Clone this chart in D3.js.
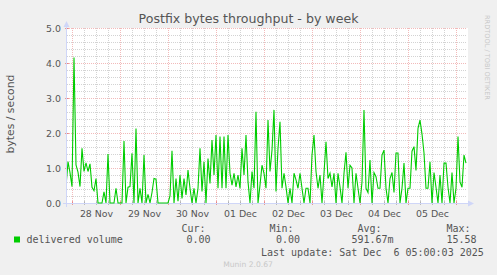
<!DOCTYPE html>
<html>
<head>
<meta charset="utf-8">
<script src="https://cdn.jsdelivr.net/npm/d3@7"></script>
<style>
    body { margin: 0; background: #f0f0f0; }
    svg { display: block; font-family: "DejaVu Sans", sans-serif; }
    .mono { font-family: "DejaVu Sans Mono", monospace; font-size: 10px; fill: #555; white-space: pre; }
</style>
</head>
<body>
<div id="chart"></div>
<script>
// hourly samples, first one at 27 Nov 2025 21:00 UTC
const seriesStart = Date.UTC(2025, 10, 27, 21, 0);
const deliveredVolume = [
    0.47, 1.18, 0.87, 0.47, 4.16, 1.09, 0.88, 0.47, 1.56, 0.9, 1.15, 0.9, 1.12, 0.45, 0.35, 0.7,
    0, 0, 0, 0.32, 0, 1.4, 0, 0, 0, 0.42, 0, 0, 0, 1.77, 0, 0.45,
    0.47, 1.42, 0, 2.13, 0, 0.42, 0, 1.37, 0, 0.25, 0, 0.3, 0.7, 0.68, 0, 0,
    0, 0, 0, 0, 0.2, 1.49, 0, 0.7, 0.05, 0.8, 0.13, 0.7, 0.23, 0.94, 0.42, 0,
    0.42, 0, 0.42, 1.56, 0.33, 1.18, 0, 1.27, 0.56, 1.8, 0.8, 1.94, 0.42, 1.9, 0.42, 1.9,
    0.42, 1.94, 0.85, 0.51, 0.85, 0.46, 0.8, 0.42, 1.56, 0.8, 1.94, 0.61, 0, 0.9, 0.42, 2.61,
    0, 0.51, 1.08, 0.85, 0.42, 2.37, 0.9, 1.51, 2.66, 0.33, 1.56, 2.32, 0.42, 0.85, 0.46, 0,
    0.42, 0, 0.85, 0.66, 0.42, 0.85, 0.42, 0, 0.42, 0.42, 0, 1.37, 1.94, 0.9, 0.42, 0.8,
    0, 0.85, 1.75, 0.7, 0.85, 0.46, 0.85, 0, 0.85, 0.46, 0, 0.85, 1.45, 0.42, 1.08, 1.0,
    0, 0.85, 0.42, 0, 0.6, 2.66, 0.42, 0.3, 1.23, 0, 0.87, 0.75, 0.42, 0.42, 1.37, 1.51,
    0.42, 0, 0.7, 0.87, 0.3, 1.43, 1.43, 0, 0.42, 1.14, 0, 0.42, 0.42, 1.48, 1.61, 0.93,
    2.13, 2.37, 1.97, 1.43, 0.42, 0.42, 1.18, 0, 0.87, 0.45, 0, 0.8, 0, 1.14, 1.14, 0.45,
    0, 0.87, 0, 0.42, 1.9, 0.6, 0.45, 1.37, 1.14
];
const yTicks = [0, 1, 2, 3, 4, 5];
const statLabels = ['Cur:', 'Min:', 'Avg:', 'Max:'];
const statValues = ['0.00', '0.00', '591.67m', '15.58'];
const lastUpdate = 'Last update: Sat Dec  6 05:00:03 2025';

const width = 497;
const height = 275;
const plot = { left: 67, right: 467, top: 28, bottom: 203 };

const fontColor = '#555';
const axisColor = '#cfd6f8';
const gridColor = 'rgba(150,150,150,0.42)';
const majorGridColor = 'rgba(225,90,90,0.42)';
const lineColor = '#00cc00';

const points = deliveredVolume.map((value, index) => ({
    time: new Date(seriesStart + index * 3600 * 1000),
    value
}));

const xScale = d3.scaleUtc()
    .domain([new Date(Date.UTC(2025, 10, 27, 21, 30)), new Date(Date.UTC(2025, 11, 6, 5, 30))])
    .range([plot.left, plot.right]);

const yScale = d3.scaleLinear()
    .domain([0, 5])
    .range([plot.bottom, plot.top]);

const svg = d3.select('#chart').append('svg')
    .attr('width', width)
    .attr('height', height);

svg.append('rect')
    .attr('width', width)
    .attr('height', height)
    .attr('fill', '#f0f0f0');

svg.append('rect')
    .attr('x', plot.left)
    .attr('y', plot.top)
    .attr('width', plot.right - plot.left + 1)
    .attr('height', plot.bottom - plot.top)
    .attr('fill', '#ffffff');

const [startTime, endTime] = xScale.domain();
const minorTimes = d3.utcHour.every(6).range(startTime, endTime).filter((t) => t.getUTCHours() !== 0);
const majorTimes = d3.utcDay.range(startTime, endTime);
const minorValues = d3.range(0, 5.01, 0.2).filter((v) => Math.abs(v - Math.round(v)) > 0.01);

// minor grid
svg.append('g')
    .attr('transform', `translate(0,${plot.bottom})`)
    .call(d3.axisBottom(xScale).tickValues(minorTimes).tickSize(-(plot.bottom - plot.top)).tickFormat(''))
    .call((g) => g.select('.domain').remove())
    .call((g) => g.selectAll('line').attr('stroke', gridColor).attr('stroke-dasharray', '1,1'));

svg.append('g')
    .attr('transform', `translate(${plot.left},0)`)
    .call(d3.axisLeft(yScale).tickValues(minorValues).tickSize(-(plot.right - plot.left)).tickFormat(''))
    .call((g) => g.select('.domain').remove())
    .call((g) => g.selectAll('line').attr('stroke', gridColor).attr('stroke-dasharray', '1,1'));

// major grid
svg.append('g')
    .attr('transform', `translate(0,${plot.bottom})`)
    .call(d3.axisBottom(xScale).tickValues(majorTimes).tickSize(-(plot.bottom - plot.top)).tickFormat(''))
    .call((g) => g.select('.domain').remove())
    .call((g) => g.selectAll('line').attr('stroke', majorGridColor).attr('stroke-dasharray', '1,1'));

svg.append('g')
    .attr('transform', `translate(${plot.left},0)`)
    .call(d3.axisLeft(yScale).tickValues(yTicks).tickSize(-(plot.right - plot.left)).tickFormat(''))
    .call((g) => g.select('.domain').remove())
    .call((g) => g.selectAll('line').attr('stroke', majorGridColor).attr('stroke-dasharray', '1,1'));

// small tick marks on the axes
svg.append('g')
    .attr('transform', `translate(0,${plot.bottom + 2})`)
    .call(d3.axisBottom(xScale).tickValues(minorTimes).tickSize(-4).tickFormat(''))
    .call((g) => g.select('.domain').remove())
    .call((g) => g.selectAll('line').attr('stroke', 'rgba(150,150,150,0.6)'));

svg.append('g')
    .attr('transform', `translate(0,${plot.bottom + 2})`)
    .call(d3.axisBottom(xScale).tickValues(majorTimes).tickSize(-4).tickFormat(''))
    .call((g) => g.select('.domain').remove())
    .call((g) => g.selectAll('line').attr('stroke', 'rgba(225,90,90,0.6)'));

svg.append('g')
    .attr('transform', `translate(${plot.left + 2},0)`)
    .call(d3.axisLeft(yScale).tickValues(yTicks).tickSize(4).tickFormat(''))
    .call((g) => g.select('.domain').remove())
    .call((g) => g.selectAll('line').attr('stroke', 'rgba(225,90,90,0.6)'));

// axis lines with arrows
svg.append('line')
    .attr('x1', plot.left - 4).attr('x2', plot.right + 3)
    .attr('y1', plot.bottom + 0.5).attr('y2', plot.bottom + 0.5)
    .attr('stroke', axisColor);

svg.append('path')
    .attr('d', `M${plot.right + 7},${plot.bottom + 0.5}L${plot.right + 1},${plot.bottom - 2.5}L${plot.right + 1},${plot.bottom + 3.5}Z`)
    .attr('fill', axisColor);

svg.append('line')
    .attr('x1', plot.left - 0.5).attr('x2', plot.left - 0.5)
    .attr('y1', plot.bottom + 4).attr('y2', plot.top - 3)
    .attr('stroke', axisColor);

svg.append('path')
    .attr('d', `M${plot.left - 0.5},${plot.top - 7}L${plot.left - 3.5},${plot.top - 1}L${plot.left + 2.5},${plot.top - 1}Z`)
    .attr('fill', axisColor);

// tick labels
svg.append('g')
    .attr('transform', `translate(${plot.left - 6},0)`)
    .call(d3.axisLeft(yScale).tickValues(yTicks).tickSize(0).tickFormat(d3.format('.1f')))
    .call((g) => g.select('.domain').remove())
    .call((g) => g.selectAll('text')
        .attr('fill', fontColor)
        .attr('font-family', '"DejaVu Sans", sans-serif')
        .attr('font-size', 9.4)
        .attr('dy', '0.35em')
        .attr('x', 0));

const noonTimes = d3.utcDay.range(startTime, endTime)
    .map((t) => d3.utcHour.offset(t, 12))
    .filter((t) => t < endTime);

svg.append('g')
    .attr('transform', `translate(0,${plot.bottom})`)
    .call(d3.axisBottom(xScale).tickValues(noonTimes).tickSize(0).tickFormat(d3.utcFormat('%d %b')))
    .call((g) => g.select('.domain').remove())
    .call((g) => g.selectAll('text')
        .attr('fill', fontColor)
        .attr('font-family', '"DejaVu Sans", sans-serif')
        .attr('font-size', 9.4)
        .attr('dy', 0)
        .attr('y', 13.5));

// data line
svg.append('clipPath')
    .attr('id', 'plot-clip')
    .append('rect')
    .attr('x', plot.left)
    .attr('y', plot.top - 2)
    .attr('width', plot.right - plot.left + 1)
    .attr('height', plot.bottom - plot.top + 4);

const line = d3.line()
    .x((datum) => xScale(datum.time))
    .y((datum) => yScale(datum.value));

svg.append('path')
    .datum(points)
    .attr('clip-path', 'url(#plot-clip)')
    .attr('fill', 'none')
    .attr('stroke', lineColor)
    .attr('stroke-width', 1.1)
    .attr('stroke-linejoin', 'miter')
    .attr('d', line);

// titles
svg.append('text')
    .attr('x', 248.5)
    .attr('y', 23)
    .attr('text-anchor', 'middle')
    .attr('font-size', 12.6)
    .attr('fill', fontColor)
    .text('Postfix bytes throughput - by week');

svg.append('text')
    .attr('transform', 'translate(13.5,114) rotate(-90)')
    .attr('text-anchor', 'middle')
    .attr('font-size', 10.8)
    .attr('fill', fontColor)
    .text('bytes / second');

svg.append('text')
    .attr('transform', 'translate(485,15) rotate(90)')
    .attr('font-size', 6.6)
    .attr('fill', '#c8c8c8')
    .text('RRDTOOL / TOBI OETIKER');

// legend
svg.append('rect')
    .attr('x', 14)
    .attr('y', 236.5)
    .attr('width', 6)
    .attr('height', 6)
    .attr('fill', lineColor);

svg.append('text')
    .attr('class', 'mono')
    .attr('x', 26.5)
    .attr('y', 243)
    .text('delivered volume');

const statLabelX = [181.5, 269.5, 357.5, 446.5];
const statValueX = [186.5, 276, 351.5, 446.5];

svg.selectAll('.stat-label')
    .data(statLabels)
    .enter()
    .append('text')
    .attr('class', 'mono stat-label')
    .attr('x', (datum, index) => statLabelX[index])
    .attr('y', 231.5)
    .text((datum) => datum);

svg.selectAll('.stat-value')
    .data(statValues)
    .enter()
    .append('text')
    .attr('class', 'mono stat-value')
    .attr('x', (datum, index) => statValueX[index])
    .attr('y', 243)
    .text((datum) => datum);

svg.append('text')
    .attr('class', 'mono')
    .attr('x', 261)
    .attr('y', 255.5)
    .text(lastUpdate);

svg.append('text')
    .attr('x', 248)
    .attr('y', 266.5)
    .attr('text-anchor', 'middle')
    .attr('font-size', 7.6)
    .attr('fill', '#c8c8c8')
    .text('Munin 2.0.67');
</script>
</body>
</html>
